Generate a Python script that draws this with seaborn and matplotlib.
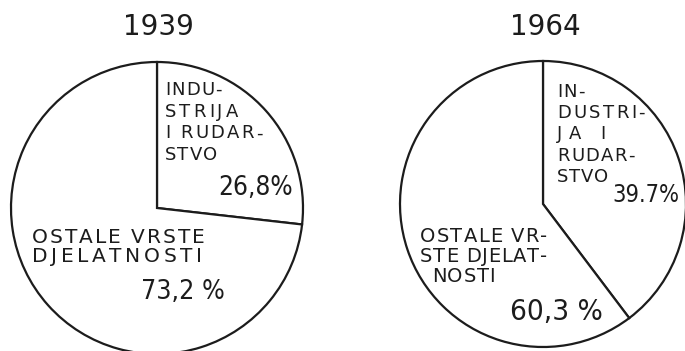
import matplotlib
matplotlib.use("Agg")
import matplotlib.pyplot as plt
from matplotlib import font_manager as fm
import seaborn as sns

# Share of industry and mining vs. other activities
years = ["1939", "1964"]
industry = [26.8, 39.7]
other = [73.2, 60.3]
industry_pct_labels = ["26,8%", "39.7%"]
other_pct_labels = ["73,2 %", "60,3 %"]
industry_names = [["INDU-", "STRIJA", "I RUDAR-", "STVO"],
                  ["IN-", "DUSTRI-", "JA I", "RUDAR-", "STVO"]]
other_names = [["OSTALE VRSTE", "DJELATNOSTI"],
               ["OSTALE VR-", "STE DJELAT-", "NOSTI"]]

sns.set_theme(style="white")
plt.rcParams["font.family"] = ["DejaVu Sans"]

# narrow face for the hand-lettered percentages, if one is installed
narrow = None
for fam, stretch in [("DejaVu Sans", "condensed"), ("Liberation Sans Narrow", "normal")]:
    try:
        path = fm.findfont(fm.FontProperties(family=fam, stretch=stretch),
                           fallback_to_default=False)
        if "Condensed" in path or "Narrow" in path:
            narrow = path
            break
    except Exception:
        pass

W, H = 685, 351
fig = plt.figure(figsize=(W / 100, H / 100), dpi=100)
fig.patch.set_facecolor("white")
ink = "#1c1c1c"
renderer = fig.canvas.get_renderer()


def px(x, y):
    return x / W, 1 - y / H


def lettered(x0, x1, base, s, size):
    """Widely spaced capitals spread from x0 to x1 (pixels) on baseline base."""
    em = size * 100 / 72
    items = []
    for ch in s:
        if ch == " ":
            items.append((None, 0.30 * em))
        else:
            t = fig.text(0, 0, ch, fontsize=size, color=ink, ha="left",
                         va="baseline")
            items.append((t, t.get_window_extent(renderer).width))
    gap = (x1 - x0 - sum(w for _, w in items)) / max(len(items) - 1, 1)
    x = x0
    for t, w in items:
        if t is not None:
            t.set_position(px(x, base))
        x += w + gap


def number(x0, x1, base, s):
    """Percentage written across the span x0..x1 (pixels)."""
    props = fm.FontProperties(fname=narrow) if narrow else fm.FontProperties(family="DejaVu Sans")
    t = fig.text(*px((x0 + x1) / 2, base), s, ha="center", va="baseline",
                 color=ink, fontproperties=props)
    t.set_fontsize(20)
    w = t.get_window_extent(renderer).width
    t.set_fontsize(1.1 * 20 * (x1 - x0) / w)


# pie circle placement in pixels: centre x, centre y, radius
circles = [(157, 208, 146), (543, 204, 143)]
title_x = [158, 545]

for i, (cx, cy, r) in enumerate(circles):
    ax = fig.add_axes([(cx - r) / W, (H - cy - r) / H, 2 * r / W, 2 * r / H])
    ax.pie([industry[i], other[i]], startangle=90, counterclock=False,
           colors=["white", "white"],
           wedgeprops=dict(edgecolor=ink, linewidth=1.6))
    ax.set_xlim(-1.0, 1.0)
    ax.set_ylim(-1.0, 1.0)
    ax.set_aspect("equal", adjustable="box")
    ax.axis("off")

    fig.text(*px(title_x[i], 35), years[i], ha="center", va="baseline",
             fontsize=20, color=ink)

# 1939 annotations
spans = [(165, 222), (165, 238), (165, 263), (165, 217)]
for k, line in enumerate(industry_names[0]):
    lettered(spans[k][0], spans[k][1], 95 + k * 21.7, line, 13)
number(222, 290, 195, industry_pct_labels[0])
spans = [(32, 205), (32, 202)]
for k, line in enumerate(other_names[0]):
    lettered(spans[k][0], spans[k][1], 243 + k * 19.5, line, 14.5)
number(145, 221, 299, other_pct_labels[0])

# 1964 annotations
spans = [(557, 585), (557, 645), (557, 605), (557, 635), (557, 608)]
for k, line in enumerate(industry_names[1]):
    lettered(spans[k][0], spans[k][1], 97 + k * 21.2, line, 13)
number(615, 676, 202, industry_pct_labels[1])
spans = [(420, 547), (420, 547), (432, 495)]
for k, line in enumerate(other_names[1]):
    lettered(spans[k][0], spans[k][1], 242 + k * 20, line, 14)
number(514, 598, 320, other_pct_labels[1])

fig.savefig("out.png", dpi=100, facecolor="white")
